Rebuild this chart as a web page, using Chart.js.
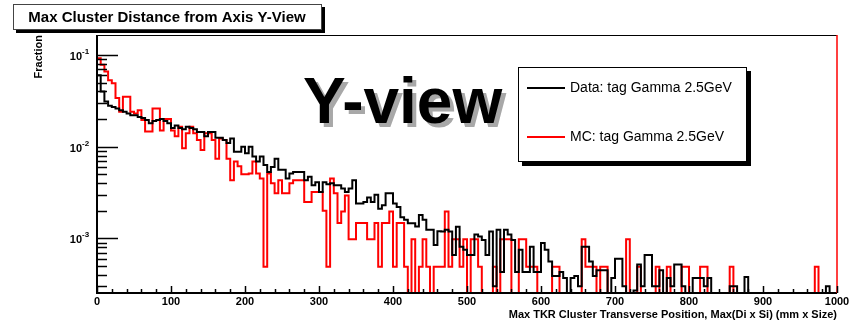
<!DOCTYPE html>
<html>
<head>
<meta charset="utf-8">
<script src="https://cdn.jsdelivr.net/npm/chart.js@4.4.0/dist/chart.umd.min.js"></script>
<style>
  body { margin: 0; background: #ffffff; }
  #wrap { width: 862px; height: 332px; }
</style>
</head>
<body>
<div id="wrap"><canvas id="mycanvas" width="862" height="332"></canvas></div>
<script>
// histogram: 200 bins of width 5 between 0 and 1000
var binWidth = 5;
var xMin = 0, xMax = 1000;
var yMin = 2.54e-4, yMax = 0.165;

var dataFraction = [
    0.060, 0.040, 0.031, 0.028, 0.027, 0.026, 0.025, 0.024, 0.023, 0.022,
    0.022, 0.021, 0.0205, 0.0195, 0.018, 0.019, 0.0195, 0.020, 0.019, 0.018,
    0.016, 0.017, 0.016, 0.0155, 0.0165, 0.016, 0.0155, 0.0145, 0.0145, 0.013,
    0.0145, 0.0145, 0.0125, 0.0125, 0.0118, 0.011, 0.0123, 0.0088, 0.0088, 0.010,
    0.0085, 0.010, 0.0078, 0.0069, 0.0078, 0.0063, 0.0053, 0.006, 0.0074, 0.0056,
    0.0056, 0.0045, 0.0051, 0.0053, 0.0053, 0.0053, 0.0043, 0.0047, 0.0038, 0.0041,
    0.0032, 0.0041, 0.0039, 0.004, 0.0038, 0.0038, 0.0035, 0.0032, 0.0035, 0.0043,
    0.0024, 0.0024, 0.0025, 0.0028, 0.0025, 0.003, 0.0021, 0.0023, 0.0031, 0.0031,
    0.0024, 0.0022, 0.0017, 0.0016, 0.00146, 0.00146, 0.00135, 0.0018, 0.0016, 0.00124,
    0.00124, 0.00085, 0.0012, 0.00119, 0.00124, 0.00119, 0.00066, 0.00134, 0.00081, 0.00075,
    0.00066, 0.00066, 0.0011, 0.00105, 0.00096, 0.00066, 0.00119, 0.0003, 0.00124, 0.00043,
    0.00124, 0.0011, 0.00096, 0.00043, 0.00075, 0.00043, 0.00043, 0.00081, 0.00043, 0.00043,
    0.00089, 0.00075, 0.00056, 0.00039, 0.00039, 0.00043, 0.00037, 0, 0.00037, 0.00039,
    0.0003, 0.00081, 0.00081, 0.00056, 0.00039, 0.00045, 0.00045, 0.00045, 0, 0.00037,
    0.0006, 0.0006, 0.0003, 0, 0, 0.00027, 0.00052, 0.0003, 0.00066, 0.00066,
    0.0003, 0.0003, 0.00045, 0, 0.00037, 0.0003, 0.00052, 0.00052, 0.0003, 0,
    0, 0.00037, 0.00037, 0.00037, 0.0003, 0.00037, 0, 0, 0, 0,
    0, 0.0003, 0.0003, 0, 0, 0.00038, 0, 0, 0, 0,
    0, 0, 0, 0, 0, 0, 0, 0, 0, 0,
    0, 0, 0, 0, 0, 0, 0, 0.0003, 0, 0
];

var mcFraction = [
    0.092, 0.078, 0.066, 0.053, 0.049, 0.034, 0.024, 0.035, 0.035, 0.024,
    0.023, 0.025, 0.0195, 0.0146, 0.0146, 0.026, 0.026, 0.015, 0.020, 0.020,
    0.015, 0.013, 0.0165, 0.0096, 0.014, 0.0165, 0.014, 0.0118, 0.0092, 0.014,
    0.014, 0.0118, 0.0074, 0.0123, 0.0118, 0.0074, 0.0043, 0.0069, 0.0061, 0.005,
    0.005, 0.0051, 0.0069, 0.0051, 0.0045, 0.00049, 0.0051, 0.004, 0.0031, 0.0043,
    0.0031, 0.0031, 0.004, 0.0043, 0.0043, 0.0043, 0.0025, 0.0025, 0.0032, 0.0032,
    0.0032, 0.002, 0.00049, 0.0045, 0.0031, 0.00147, 0.00196, 0.00294, 0.00098, 0.00098,
    0.00147, 0.00147, 0.00147, 0.00098, 0.00098, 0.00147, 0.00049, 0.00147, 0.00147, 0.00196,
    0.00049, 0.00147, 0.00147, 0.00049, 0, 0.00098, 0, 0.00049, 0.00098, 0.00049,
    0, 0.00049, 0.00049, 0.00049, 0.00196, 0.00049, 0.00098, 0.00098, 0.00049, 0.00098,
    0, 0.00098, 0.00098, 0.00049, 0, 0, 0, 0.00049, 0, 0.00098,
    0.00098, 0.00098, 0, 0, 0.00098, 0.00098, 0.00049, 0.00049, 0.00049, 0,
    0, 0, 0, 0.00049, 0.00049, 0, 0, 0, 0, 0,
    0, 0.00098, 0.00049, 0.00049, 0.00049, 0, 0.00049, 0.00049, 0, 0,
    0, 0, 0, 0.00098, 0, 0, 0.00049, 0, 0, 0,
    0, 0.00049, 0, 0, 0.00049, 0, 0, 0, 0.00049, 0.00049,
    0, 0, 0, 0.00049, 0.00049, 0, 0, 0, 0, 0,
    0, 0.00049, 0, 0, 0, 0, 0, 0, 0, 0,
    0, 0, 0, 0, 0, 0, 0, 0, 0, 0,
    0, 0, 0, 0, 0.00049, 0, 0, 0, 0, 0
];

var xTickValues = [0, 100, 200, 300, 400, 500, 600, 700, 800, 900, 1000];
var xMinorStep = 20;
var yTickValues = [1e-1, 1e-2, 1e-3];
var yTickExponents = ['-1', '-2', '-3'];

var seriesLabels = ['Data: tag Gamma 2.5GeV', 'MC: tag Gamma 2.5GeV'];
var seriesColors = ['#000000', '#ff0000'];

var titleText = 'Max Cluster Distance from Axis Y-View';
var xTitle = 'Max TKR Cluster Transverse Position, Max(Di x Si) (mm x Size)';
var yTitle = 'Fraction';
var bigLabel = 'Y-view';

var FONT = '"Liberation Sans", Arial, Helvetica, sans-serif';

// bin edges -> step points, empty bins sit on the axis
function histPoints(values) {
    var pts = [{x: xMin, y: yMin}];
    for (var i = 0; i < values.length; i++) {
        pts.push({x: xMin + i * binWidth, y: values[i] > 0 ? values[i] : yMin});
    }
    pts.push({x: xMin + values.length * binWidth, y: yMin});
    return pts;
}

var rootStyle = {
    id: 'rootStyle',
    beforeDraw: function (chart) {
        var ctx = chart.ctx;
        ctx.save();
        ctx.fillStyle = '#ffffff';
        ctx.fillRect(0, 0, chart.width, chart.height);
        ctx.restore();
    },
    afterDatasetsDraw: function (chart) {
        var ctx = chart.ctx;
        var a = chart.chartArea;
        var xs = chart.scales.x, ys = chart.scales.y;
        ctx.save();

        // frame
        ctx.strokeStyle = '#000';
        ctx.lineWidth = 1;
        ctx.beginPath();
        ctx.moveTo(a.left, a.top + 0.5);
        ctx.lineTo(a.right, a.top + 0.5);
        ctx.stroke();
        ctx.lineWidth = 2;
        ctx.beginPath();
        ctx.moveTo(a.left, a.top);
        ctx.lineTo(a.left, a.bottom);
        ctx.lineTo(a.right, a.bottom);
        ctx.stroke();
        ctx.strokeStyle = '#ff0000';
        ctx.lineWidth = 1.5;
        ctx.beginPath();
        ctx.moveTo(a.right, a.top);
        ctx.lineTo(a.right, a.bottom);
        ctx.stroke();

        // y ticks (log), drawn inside the frame
        ctx.strokeStyle = '#000';
        ctx.lineWidth = 1.5;
        for (var e = -5; e <= 0; e++) {
            for (var m = 1; m <= 9; m++) {
                var v = m * Math.pow(10, e);
                if (v < yMin || v > yMax) continue;
                var py = Math.round(ys.getPixelForValue(v)) + 0.5;
                var len = (m === 1) ? 21 : 10;
                ctx.beginPath();
                ctx.moveTo(a.left, py);
                ctx.lineTo(a.left + len, py);
                ctx.stroke();
            }
        }
        // x ticks
        for (var t = xMin; t <= xMax; t += xMinorStep) {
            var px = Math.round(xs.getPixelForValue(t)) + 0.5;
            var major = (t % 100 === 0);
            ctx.beginPath();
            ctx.moveTo(px, a.bottom);
            ctx.lineTo(px, a.bottom - (major ? 7 : 4));
            ctx.stroke();
        }

        // tick labels
        ctx.fillStyle = '#000';
        ctx.font = 'bold 11px ' + FONT;
        ctx.textAlign = 'center';
        ctx.textBaseline = 'top';
        xTickValues.forEach(function (t) {
            ctx.fillText(String(t), xs.getPixelForValue(t), a.bottom + 3);
        });
        yTickValues.forEach(function (v, i) {
            var py = ys.getPixelForValue(v);
            ctx.textBaseline = 'alphabetic';
            ctx.textAlign = 'right';
            ctx.font = 'bold 11px ' + FONT;
            ctx.fillText('10', 82, py + 5);
            ctx.textAlign = 'left';
            ctx.font = 'bold 8px ' + FONT;
            ctx.fillText(yTickExponents[i], 82, py - 1);
        });

        // axis titles
        ctx.font = 'bold 11px ' + FONT;
        ctx.textAlign = 'right';
        ctx.textBaseline = 'middle';
        ctx.fillText(xTitle, a.right, 315);
        ctx.save();
        ctx.translate(39, a.top);
        ctx.rotate(-Math.PI / 2);
        ctx.textAlign = 'right';
        ctx.fillText(yTitle, 0, 0);
        ctx.restore();

        // title box with shadow
        ctx.fillStyle = '#000';
        ctx.fillRect(16, 7, 309, 26);
        ctx.fillStyle = '#ffffff';
        ctx.fillRect(13, 4, 309, 26);
        ctx.strokeStyle = '#444';
        ctx.lineWidth = 1;
        ctx.strokeRect(13.5, 4.5, 308, 25);
        ctx.fillStyle = '#000';
        ctx.font = 'bold 15px ' + FONT;
        ctx.textAlign = 'center';
        ctx.textBaseline = 'middle';
        ctx.fillText(titleText, 167, 18);

        // big label with grey shadow
        ctx.font = 'bold 64px ' + FONT;
        ctx.textAlign = 'left';
        ctx.textBaseline = 'alphabetic';
        ctx.fillStyle = '#a8a8a8';
        ctx.fillText(bigLabel, 307, 127);
        ctx.fillStyle = '#000';
        ctx.fillText(bigLabel, 303, 123);

        // legend box
        var lx = 518, ly = 67, lw = 229, lh = 95;
        ctx.fillStyle = '#000';
        ctx.fillRect(lx + 4, ly + 4, lw, lh);
        ctx.fillStyle = '#ffffff';
        ctx.fillRect(lx, ly, lw, lh);
        ctx.strokeStyle = '#000';
        ctx.lineWidth = 1;
        ctx.strokeRect(lx + 0.5, ly + 0.5, lw - 1, lh - 1);
        var rows = [88, 137];
        ctx.font = '14px ' + FONT;
        ctx.textAlign = 'left';
        ctx.textBaseline = 'middle';
        chart.data.datasets.forEach(function (ds, i) {
            ctx.strokeStyle = ds.borderColor;
            ctx.lineWidth = 2;
            ctx.beginPath();
            ctx.moveTo(527, rows[i]);
            ctx.lineTo(565, rows[i]);
            ctx.stroke();
            ctx.fillStyle = '#000';
            ctx.fillText(ds.label, 570, rows[i]);
        });

        ctx.restore();
    }
};

var ctx = document.getElementById('mycanvas').getContext('2d');
var histChart = new Chart(ctx, {
    type: 'line',
    data: {
        datasets: [
            {
                label: seriesLabels[0],
                data: histPoints(dataFraction),
                borderColor: seriesColors[0],
                borderWidth: 2,
                stepped: true,
                pointRadius: 0,
                fill: false,
                clip: 1
            },
            {
                label: seriesLabels[1],
                data: histPoints(mcFraction),
                borderColor: seriesColors[1],
                borderWidth: 2,
                stepped: true,
                pointRadius: 0,
                fill: false,
                clip: 1
            }
        ]
    },
    options: {
        responsive: false,
        animation: false,
        devicePixelRatio: 1,
        layout: { padding: { left: 97, right: 25, top: 35, bottom: 39 } },
        plugins: { legend: { display: false }, title: { display: false }, tooltip: { enabled: false } },
        scales: {
            x: { type: 'linear', min: xMin, max: xMax, display: false },
            y: { type: 'logarithmic', min: yMin, max: yMax, display: false }
        }
    },
    plugins: [rootStyle]
});
</script>
</body>
</html>
